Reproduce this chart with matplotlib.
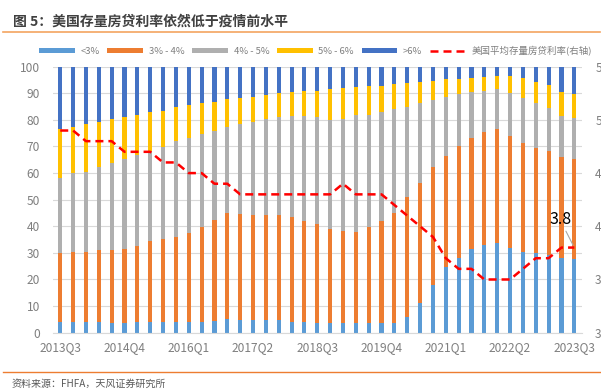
import matplotlib
matplotlib.use("Agg")
import matplotlib.pyplot as plt
from matplotlib.lines import Line2D
from matplotlib.patches import Patch

plt.rcParams["font.family"] = ["Noto Sans CJK SC", "DejaVu Sans"]

# quarters 2013Q3 .. 2023Q3
quarters = [f"{y}Q{q}" for y in range(2013, 2024) for q in range(1, 5)][2:43]
tick_labels = ["2013Q3", "2014Q4", "2016Q1", "2017Q2", "2018Q3",
               "2019Q4", "2021Q1", "2022Q2", "2023Q3"]

# share of outstanding mortgages by rate bucket (%)
lt3 = [4.1, 4.1, 4.1, 4.1, 3.8, 3.8, 4.1, 4.1, 4.1, 4.1, 4.1, 4.1, 4.5, 5.0,
       4.8, 4.8, 4.8, 4.8, 4.1, 4.1, 3.8, 3.8, 3.5, 3.5, 3.5, 3.8, 3.8, 6.0,
       11.0, 17.9, 24.8, 27.9, 31.3, 33.0, 33.6, 32.0, 30.5, 29.8, 29.2, 28.2, 27.7]
r3_4 = [25.9, 26.4, 26.4, 26.9, 27.2, 27.7, 28.6, 30.5, 31.0, 32.0, 33.2, 35.5, 37.9, 40.1,
        39.8, 39.4, 39.4, 39.4, 39.5, 37.9, 36.9, 35.2, 34.7, 34.5, 36.3, 38.2, 41.1, 45.1,
        45.4, 44.3, 41.7, 42.3, 42.0, 42.6, 42.8, 41.9, 40.9, 39.7, 39.2, 38.0, 37.5]
r4_5 = [28.0, 29.5, 30.0, 31.4, 32.7, 33.7, 34.1, 33.8, 34.6, 36.0, 36.0, 35.1, 33.5, 32.3,
        33.7, 35.1, 36.0, 36.8, 37.9, 39.5, 40.3, 41.0, 42.0, 43.8, 42.0, 40.8, 39.2, 33.9,
        30.1, 25.3, 22.2, 19.5, 17.3, 15.4, 15.1, 16.3, 16.9, 16.7, 15.9, 15.3, 15.4]
r5_6 = [18.4, 17.4, 17.9, 16.9, 16.5, 15.8, 15.0, 14.4, 13.6, 12.6, 12.3, 11.8, 10.9, 10.4,
        10.0, 9.4, 9.1, 9.2, 9.1, 9.5, 10.0, 11.5, 11.7, 10.7, 11.1, 10.1, 9.3, 8.7,
        7.9, 7.2, 6.5, 5.5, 5.0, 5.2, 5.1, 6.4, 7.3, 8.2, 8.8, 9.1, 9.1]
gt6 = [23.6, 22.6, 21.3, 20.7, 19.8, 18.7, 18.2, 17.2, 16.7, 15.3, 14.4, 13.5, 12.9, 12.2,
       11.4, 11.3, 10.7, 9.8, 9.4, 9.0, 8.7, 8.5, 8.1, 7.5, 7.1, 7.1, 6.3, 6.3,
       5.6, 5.3, 4.8, 4.8, 4.4, 3.8, 3.4, 3.4, 4.4, 5.3, 6.9, 9.4, 10.0]

# average outstanding mortgage rate (%), right axis
avg_rate = [4.9, 4.9, 4.8, 4.8, 4.8, 4.7, 4.7, 4.7, 4.6, 4.6, 4.5, 4.5, 4.4, 4.4,
            4.3, 4.3, 4.3, 4.3, 4.3, 4.3, 4.3, 4.3, 4.4, 4.3, 4.3, 4.3, 4.2, 4.1,
            4.0, 3.9, 3.7, 3.6, 3.6, 3.5, 3.5, 3.5, 3.6, 3.7, 3.7, 3.8, 3.8]
right_ticks = [3.0, 3.5, 4.0, 4.5, 5.0, 5.5]

series = [("<3%", lt3, "#5B9BD5"),
          ("3% - 4%", r3_4, "#ED7D31"),
          ("4% - 5%", r4_5, "#AFAFAF"),
          ("5% - 6%", r5_6, "#FFC000"),
          (">6%", gt6, "#4472C4")]

GRAY = "#7F7F7F"

fig = plt.figure(figsize=(6.01, 3.92), dpi=100)
ax = fig.add_axes([0.0874, 0.1513, 0.881, 0.6786])

x = list(range(len(quarters)))
bottom = [0.0] * len(x)
handles = []
for name, vals, color in series:
    ax.bar(x, vals, width=0.32, bottom=bottom, color=color, zorder=2)
    bottom = [b + v for b, v in zip(bottom, vals)]
    handles.append(Patch(facecolor=color, label=name))

ax.set_xlim(-0.6, len(x) - 0.4)
ax.set_ylim(0, 100)
ax.set_yticks(range(0, 101, 10))
ax.yaxis.grid(True, color="#D9D9D9", lw=0.8, zorder=0)
ax.set_axisbelow(True)
ax.set_xticks([quarters.index(t) for t in tick_labels])
ax.set_xticklabels(tick_labels)
ax.tick_params(axis="both", length=0, colors=GRAY, labelsize=8.6)
ax.tick_params(axis="y", pad=9)
ax.tick_params(axis="x", pad=6)
for s in ["left", "right", "top"]:
    ax.spines[s].set_visible(False)
ax.spines["bottom"].set_color("#D9D9D9")

# right axis: labels run past the figure edge, as in the source chart
ax2 = ax.twinx()
line, = ax2.plot(x, avg_rate, color="#FF0000", lw=1.8, dashes=(3.2, 2.0),
                 label="美国平均存量房贷利率(右轴)")
ax2.set_ylim(3.0, 5.5)
ax2.set_yticks(right_ticks)
ax2.set_yticklabels([f"{v:.1f}" for v in right_ticks])
ax2.tick_params(axis="y", length=0, colors=GRAY, labelsize=8.6, pad=9.5)
for s in ax2.spines.values():
    s.set_visible(False)

ax2.annotate(f"{avg_rate[-1]:.1f}", xy=(x[-1], avg_rate[-1]), xytext=(x[-1] - 1.1, 4.06),
             ha="center", va="center", fontsize=11.5, color="black",
             arrowprops=dict(arrowstyle="-", color="#A6A6A6", lw=0.8, shrinkA=0, shrinkB=2))

handles.append(line)
fig.legend(handles=handles, labels=[h.get_label() for h in handles],
           loc="center", bbox_to_anchor=(0.525, 0.87), ncol=6, frameon=False,
           fontsize=6.8, labelcolor=GRAY, handlelength=3.8, handleheight=0.4,
           handletextpad=0.6, columnspacing=0.8)

fig.text(0.0216, 0.945, "图 5：美国存量房贷利率依然低于疫情前水平", fontsize=10,
         fontweight="bold", color="#404040", va="center")
fig.add_artist(Line2D([0.005, 0.998], [0.918, 0.918], transform=fig.transFigure,
                      color="#F4A460", lw=1.2))
fig.add_artist(Line2D([0.005, 0.998], [0.051, 0.051], transform=fig.transFigure,
                      color="#ED7D31", lw=1.0))
fig.text(0.02, 0.02, "资料来源：FHFA，天风证券研究所", fontsize=7.2, color="#595959",
         va="center")

fig.savefig("out.png", dpi=100)
